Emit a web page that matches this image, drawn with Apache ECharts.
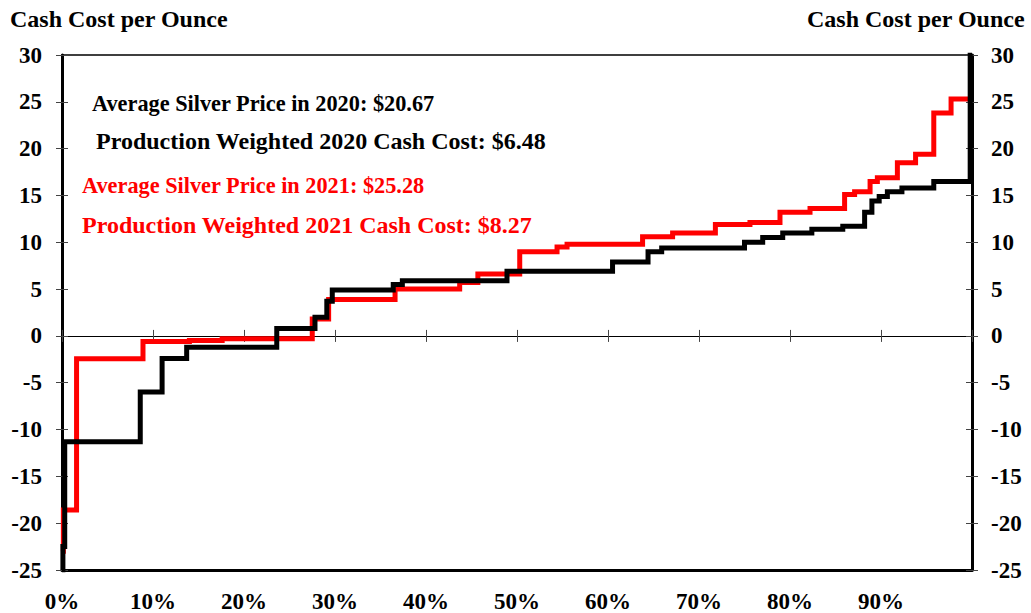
<!DOCTYPE html>
<html>
<head>
<meta charset="utf-8">
<script src="https://cdn.jsdelivr.net/npm/echarts@6/dist/echarts.min.js"></script>
<style>
html,body{margin:0;padding:0;background:#fff;}
#chart{width:1031px;height:613px;}
</style>
</head>
<body>
<div id="chart"></div>
<script>
// Cumulative share of production (%) where each step begins, and the cash cost from there on
const pct2020 = [0, 0.1, 0.3, 8.6, 11.0, 13.7, 23.6, 27.8, 29.1, 29.7, 36.4, 37.4, 48.9, 60.5, 64.4, 65.9, 75.0, 77.0, 79.2, 82.4, 85.8, 88.2, 89.0, 89.8, 90.7, 92.3, 95.8, 99.8, 100];
const cost2020 = [-25, -22.5, -11.3, -6.0, -2.4, -1.2, 0.8, 2.0, 3.7, 4.9, 5.5, 5.9, 6.9, 7.9, 9.0, 9.4, 10.0, 10.5, 11.0, 11.4, 11.7, 13.2, 14.4, 14.9, 15.4, 15.8, 16.5, 30, 30];

const pct2021 = [0, 0.15, 1.6, 8.9, 14.0, 17.6, 27.5, 29.3, 36.6, 43.7, 45.7, 50.3, 54.4, 55.5, 63.8, 67.1, 71.8, 75.6, 78.9, 82.2, 86.0, 87.1, 88.8, 89.6, 91.8, 93.8, 95.8, 97.7, 100];
const cost2021 = [-23, -18.6, -2.45, -0.6, -0.5, -0.3, 1.8, 3.9, 5.0, 5.7, 6.6, 9.0, 9.5, 9.8, 10.6, 11.0, 11.9, 12.1, 13.2, 13.6, 15.1, 15.4, 16.5, 16.9, 18.5, 19.4, 23.8, 25.3, 25.3];

const xTicks = [0, 10, 20, 30, 40, 50, 60, 70, 80, 90];
const yMin = -25, yMax = 30, yStep = 5;
const axisTitle = 'Cash Cost per Ounce';
const notes2020 = ['Average Silver Price in 2020: $20.67', 'Production Weighted 2020 Cash Cost: $6.48'];
const notes2021 = ['Average Silver Price in 2021: $25.28', 'Production Weighted 2021 Cash Cost: $8.27'];

const FONT = '"Liberation Serif","Times New Roman",serif';
const chart = echarts.init(document.getElementById('chart'), null, {renderer: 'svg'});

function pairs(xs, ys) { return xs.map((x, i) => [x, ys[i]]); }

const lblStyle = {color: '#000', fontFamily: FONT, fontWeight: 'bold', fontSize: 23};

function yAx(pos, main, inside) {
  return {
    type: 'value', position: pos, min: yMin, max: yMax, interval: yStep,
    axisLine: {show: main, onZero: false, lineStyle: {color: '#000', width: 3}},
    axisTick: {show: true, inside: inside, length: 6, lineStyle: {color: '#444', width: 1}},
    axisLabel: Object.assign({show: main, margin: main ? (pos === 'left' ? 20 : 19) : 8}, lblStyle),
    splitLine: {show: false}
  };
}

const option = {
  animation: false,
  backgroundColor: '#fff',
  grid: {left: 62, right: 59, top: 55, bottom: 41, show: true, borderColor: '#000', borderWidth: 1.5, backgroundColor: 'transparent'},
  xAxis: [
    {
      type: 'value', position: 'bottom', min: 0, max: 100, interval: 10,
      axisLine: {onZero: false, lineStyle: {color: '#000', width: 3}},
      axisTick: {show: false},
      axisLabel: Object.assign({margin: 20, formatter: v => xTicks.includes(v) ? v + '%' : ''}, lblStyle),
      splitLine: {show: false}
    },
    {
      type: 'value', position: 'bottom', min: 0, max: 100, interval: 10,
      axisLine: {onZero: true, onZeroAxisIndex: 0, lineStyle: {color: '#000', width: 1.2}},
      axisTick: {show: true, length: 6, lineStyle: {color: '#444', width: 1}},
      axisLabel: {show: false}, splitLine: {show: false}
    },
    {
      type: 'value', position: 'top', min: 0, max: 100, interval: 10,
      axisLine: {onZero: true, onZeroAxisIndex: 1, lineStyle: {color: '#000', width: 1.2}},
      axisTick: {show: true, length: 6, lineStyle: {color: '#444', width: 1}},
      axisLabel: {show: false}, splitLine: {show: false}
    }
  ],
  yAxis: [
    yAx('left', true, false),
    yAx('right', true, false),
    yAx('left', false, true),
    yAx('right', false, true)
  ],
  series: [
    {
      name: '2021', type: 'line', step: 'end', xAxisIndex: 0, yAxisIndex: 0,
      data: pairs(pct2021, cost2021), showSymbol: false, symbol: 'none',
      lineStyle: {color: '#ff0000', width: 5, join: 'miter'}, z: 3
    },
    {
      name: '2020', type: 'line', step: 'end', xAxisIndex: 0, yAxisIndex: 0,
      data: pairs(pct2020, cost2020), showSymbol: false, symbol: 'none',
      lineStyle: {color: '#000', width: 5, join: 'miter'}, z: 4
    }
  ],
  graphic: [
    {type: 'text', left: 10, top: 7, style: {text: axisTitle, font: 'bold 24px ' + FONT, fill: '#000'}},
    {type: 'text', right: 6, top: 7, style: {text: axisTitle, font: 'bold 24px ' + FONT, fill: '#000'}},
    {type: 'text', left: 92, top: 92, style: {text: notes2020[0], font: 'bold 22.3px ' + FONT, fill: '#000'}},
    {type: 'text', left: 96, top: 129, style: {text: notes2020[1], font: 'bold 24px ' + FONT, fill: '#000'}},
    {type: 'text', left: 82, top: 174, style: {text: notes2021[0], font: 'bold 22.3px ' + FONT, fill: '#ff0000'}},
    {type: 'text', left: 82, top: 213, style: {text: notes2021[1], font: 'bold 24px ' + FONT, fill: '#ff0000'}}
  ]
};
chart.setOption(option);
</script>
</body>
</html>
